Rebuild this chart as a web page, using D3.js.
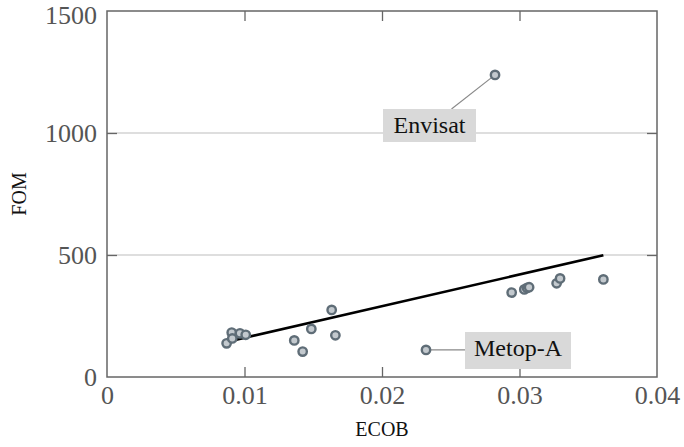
<!DOCTYPE html>
<html>
<head>
<meta charset="utf-8">
<script src="https://cdn.jsdelivr.net/npm/d3@7/dist/d3.min.js"></script>
<style>
  html, body { margin: 0; padding: 0; background: #fff; }
  svg { display: block; }
</style>
</head>
<body>
<svg id="chart" width="684" height="447"></svg>
<script>
// Data
const ecob = [0.00870, 0.00907, 0.00911, 0.00967, 0.01009, 0.01362, 0.01423, 0.01486, 0.01634, 0.01661,
              0.02943, 0.03035, 0.03055, 0.03070, 0.03270, 0.03295, 0.03610, 0.02822, 0.02320];
const fom  = [138, 182, 158, 179, 173, 150, 104, 197, 275, 171,
              346, 359, 365, 368, 384, 404, 400, 1238, 111];
const trendX = [0.0087, 0.0361];
const trendY = [144, 499];
const labelNames = ["Envisat", "Metop-A"];
const labelX = [0.02822, 0.02320];
const labelY = [1238, 111];
const xTicks = [0, 0.01, 0.02, 0.03, 0.04];
const yTicks = [0, 500, 1000, 1500];
const xTitle = "ECOB";
const yTitle = "FOM";

const FONT = "Liberation Serif";
const svg = d3.select("#chart");
const L = 107, R = 657, T = 11, B = 377;
const x = d3.scaleLinear().domain([0, 0.04]).range([L, R]);
const y = d3.scaleLinear().domain([0, 1500]).range([B, T]);

const frameColor = "#666";
const tickLen = 10;

// gridlines
svg.append("g").selectAll("line").data(yTicks.slice(1, -1)).join("line")
  .attr("x1", L).attr("x2", R).attr("y1", d => y(d)).attr("y2", d => y(d))
  .attr("stroke", "#bdbdbd").attr("stroke-width", 1.2);

// axes with inward ticks
const fmtX = d => d === 0 ? "0" : d3.format(".2f")(d);
const fmtY = d3.format("d");
const axB = svg.append("g").attr("transform", `translate(0,${B})`)
  .call(d3.axisBottom(x).tickValues(xTicks).tickFormat(fmtX).tickSizeInner(-tickLen).tickSizeOuter(0).tickPadding(9));
const axT = svg.append("g").attr("transform", `translate(0,${T})`)
  .call(d3.axisTop(x).tickValues(xTicks).tickFormat("").tickSizeInner(-tickLen).tickSizeOuter(0));
const axL = svg.append("g").attr("transform", `translate(${L},0)`)
  .call(d3.axisLeft(y).tickValues(yTicks).tickFormat(fmtY).tickSizeInner(-tickLen).tickSizeOuter(0).tickPadding(10));
const axR = svg.append("g").attr("transform", `translate(${R},0)`)
  .call(d3.axisRight(y).tickValues(yTicks).tickFormat("").tickSizeInner(-tickLen).tickSizeOuter(0));

[axB, axT, axL, axR].forEach(g => {
  g.attr("font-family", null).attr("font-size", null);
  g.select(".domain").remove();
  g.selectAll(".tick line").attr("stroke", frameColor).attr("stroke-width", 1.3);
  g.selectAll(".tick text").attr("fill", "#555")
    .attr("font-family", FONT).attr("font-size", 26);
});
// hide ticks at the frame corners
axB.selectAll(".tick").filter(d => d === 0 || d === 0.04).select("line").remove();
axT.selectAll(".tick").filter(d => d === 0 || d === 0.04).select("line").remove();
axL.selectAll(".tick").filter(d => d === 0 || d === 1500).select("line").remove();
axR.selectAll(".tick").filter(d => d === 0 || d === 1500).select("line").remove();
axB.selectAll(".tick text").attr("dy", "0.71em");
axL.selectAll(".tick text").attr("dy", "0.34em");
// keep the top label inside the picture
axL.selectAll(".tick").filter(d => d === 1500).select("text").attr("dy", "0.47em");

// frame
svg.append("rect").attr("x", L).attr("y", T).attr("width", R - L).attr("height", B - T)
  .attr("fill", "none").attr("stroke", frameColor).attr("stroke-width", 1.5);

// trend line
svg.append("line")
  .attr("x1", x(trendX[0])).attr("y1", y(trendY[0]))
  .attr("x2", x(trendX[1])).attr("y2", y(trendY[1]))
  .attr("stroke", "#000").attr("stroke-width", 2.6);

// annotations: connectors and boxes
const ann = svg.append("g");
{
  const px = x(labelX[0]), py = y(labelY[0]);
  const bx = 383, by = 109, bw = 93, bh = 33;
  ann.append("line").attr("x1", px).attr("y1", py).attr("x2", 451.5).attr("y2", by)
    .attr("stroke", "#888").attr("stroke-width", 1.1);
  ann.append("rect").attr("x", bx).attr("y", by).attr("width", bw).attr("height", bh).attr("fill", "#d9d9d9");
  ann.append("text").attr("x", bx + bw / 2).attr("y", by + 24).attr("text-anchor", "middle")
    .attr("font-family", FONT).attr("font-size", 24)
    .attr("fill", "#111").text(labelNames[0]);
}
{
  const px = x(labelX[1]), py = y(labelY[1]);
  const bx = 465, by = 332, bw = 106, bh = 37;
  ann.append("line").attr("x1", px).attr("y1", py).attr("x2", bx).attr("y2", py)
    .attr("stroke", "#888").attr("stroke-width", 1.1);
  ann.append("rect").attr("x", bx).attr("y", by).attr("width", bw).attr("height", bh).attr("fill", "#d9d9d9");
  ann.append("text").attr("x", bx + bw / 2).attr("y", by + 24).attr("text-anchor", "middle")
    .attr("font-family", FONT).attr("font-size", 24)
    .attr("fill", "#111").text(labelNames[1]);
}

// points
svg.append("g").selectAll("circle").data(ecob.map((d, i) => [d, fom[i]])).join("circle")
  .attr("cx", d => x(d[0])).attr("cy", d => y(d[1])).attr("r", 4.2)
  .attr("fill", "#c3c9ce").attr("stroke", "#5f6d77").attr("stroke-width", 2.4);

// axis titles
svg.append("text").attr("x", (L + R) / 2).attr("y", 436).attr("text-anchor", "middle")
  .attr("font-family", FONT).attr("font-size", 20).attr("fill", "#111").text(xTitle);
svg.append("text").attr("transform", `translate(26,${(T + B) / 2}) rotate(-90)`).attr("text-anchor", "middle")
  .attr("font-family", FONT).attr("font-size", 20).attr("fill", "#111").text(yTitle);
</script>
</body>
</html>
